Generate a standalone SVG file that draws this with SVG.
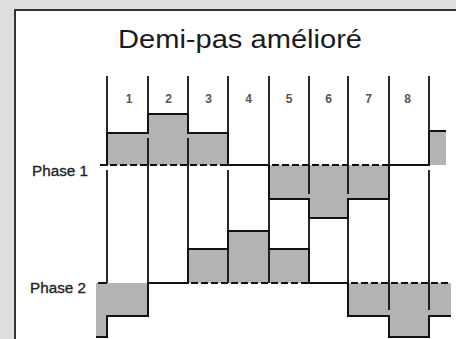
<svg xmlns="http://www.w3.org/2000/svg" width="456" height="339" viewBox="0 0 456 339">
<style>
.grid{stroke:#111;stroke-width:1.8;fill:none}
.wave{stroke:#111;stroke-width:2;fill:none;stroke-linejoin:miter}
.dash{stroke:#111;stroke-width:2;fill:none;stroke-dasharray:7 3}
.fill{fill:#b3b3b3;stroke:none}
.num{font-family:"Liberation Sans",Arial,sans-serif;font-size:12px;font-weight:bold;fill:#555;text-anchor:middle}
.lbl{font-family:"Liberation Sans",Arial,sans-serif;font-size:14px;fill:#222;stroke:#222;stroke-width:0.3}
.title{font-family:"Liberation Sans",Arial,sans-serif;font-size:25px;fill:#1a1a1a}
</style>
<rect x="0" y="0" width="456" height="339" fill="#dedede"/>
<rect x="14" y="9" width="450" height="340" fill="#ffffff"/>
<path d="M15,339 V10 H456" stroke="#333" stroke-width="2" fill="none"/>
<g id="title"><text class="title" x="118" y="48" textLength="244" lengthAdjust="spacingAndGlyphs">Demi-pas amélioré</text></g>
<g id="numbers">
<text class="num" x="129" y="103">1</text>
<text class="num" x="168.5" y="103">2</text>
<text class="num" x="208.5" y="103">3</text>
<text class="num" x="248.5" y="103">4</text>
<text class="num" x="289" y="103">5</text>
<text class="num" x="328.5" y="103">6</text>
<text class="num" x="368.5" y="103">7</text>
<text class="num" x="407.5" y="103">8</text>
</g>
<g id="phase1-fill">
<rect class="fill" x="107" y="133" width="121" height="32"/>
<rect class="fill" x="148" y="114" width="40" height="19"/>
<rect class="fill" x="269" y="165" width="120" height="34"/>
<rect class="fill" x="309" y="199" width="39" height="19"/>
<rect class="fill" x="429" y="131" width="17" height="34"/>
</g>
<g id="phase2-fill">
<path class="fill" d="M96,283 H148 V316 H107 V337 H96 Z"/>
<rect class="fill" x="188" y="249" width="121" height="34"/>
<rect class="fill" x="228" y="231" width="41" height="18"/>
<rect class="fill" x="348" y="283" width="103" height="33"/>
<rect class="fill" x="389" y="316" width="40" height="21"/>
</g>
<g id="connectors">
<path class="grid" d="M107,76 V133 M107,170 V283 M148,76 V114 M148,138 V316 M188,76 V114 M188,138 V283 M228,76 V133 M228,170 V283 M269,76 V165 M269,199 V283 M309,76 V194 M309,218 V283 M348,76 V194 M348,218 V283 M389,76 V310 M429,76 V131 M429,170 V310"/>
</g>
<g id="phase1">
<text class="lbl" x="32" y="176" textLength="56" lengthAdjust="spacingAndGlyphs">Phase 1</text>
<path class="wave" d="M100,165 H107 V133 H148 V114 H188 V133 H228 V165 H269 V199 H309 V218 H348 V199 H389 V165 H429 V131 H446"/>
<path class="dash" d="M110,165 H228 M272,165 H389"/>
</g>
<g id="phase2">
<text class="lbl" x="30" y="293" textLength="56" lengthAdjust="spacingAndGlyphs">Phase 2</text>
<path class="wave" d="M96,337 H107 V316 H148 V283 H188 V249 H228 V231 H269 V249 H309 V283 H348 V316 H389 V337 H429 V316 H451"/>
<path class="wave" d="M98,283 H107"/>
<path class="dash" d="M191,283 H309 M351,283 H451"/>
</g>
</svg>
